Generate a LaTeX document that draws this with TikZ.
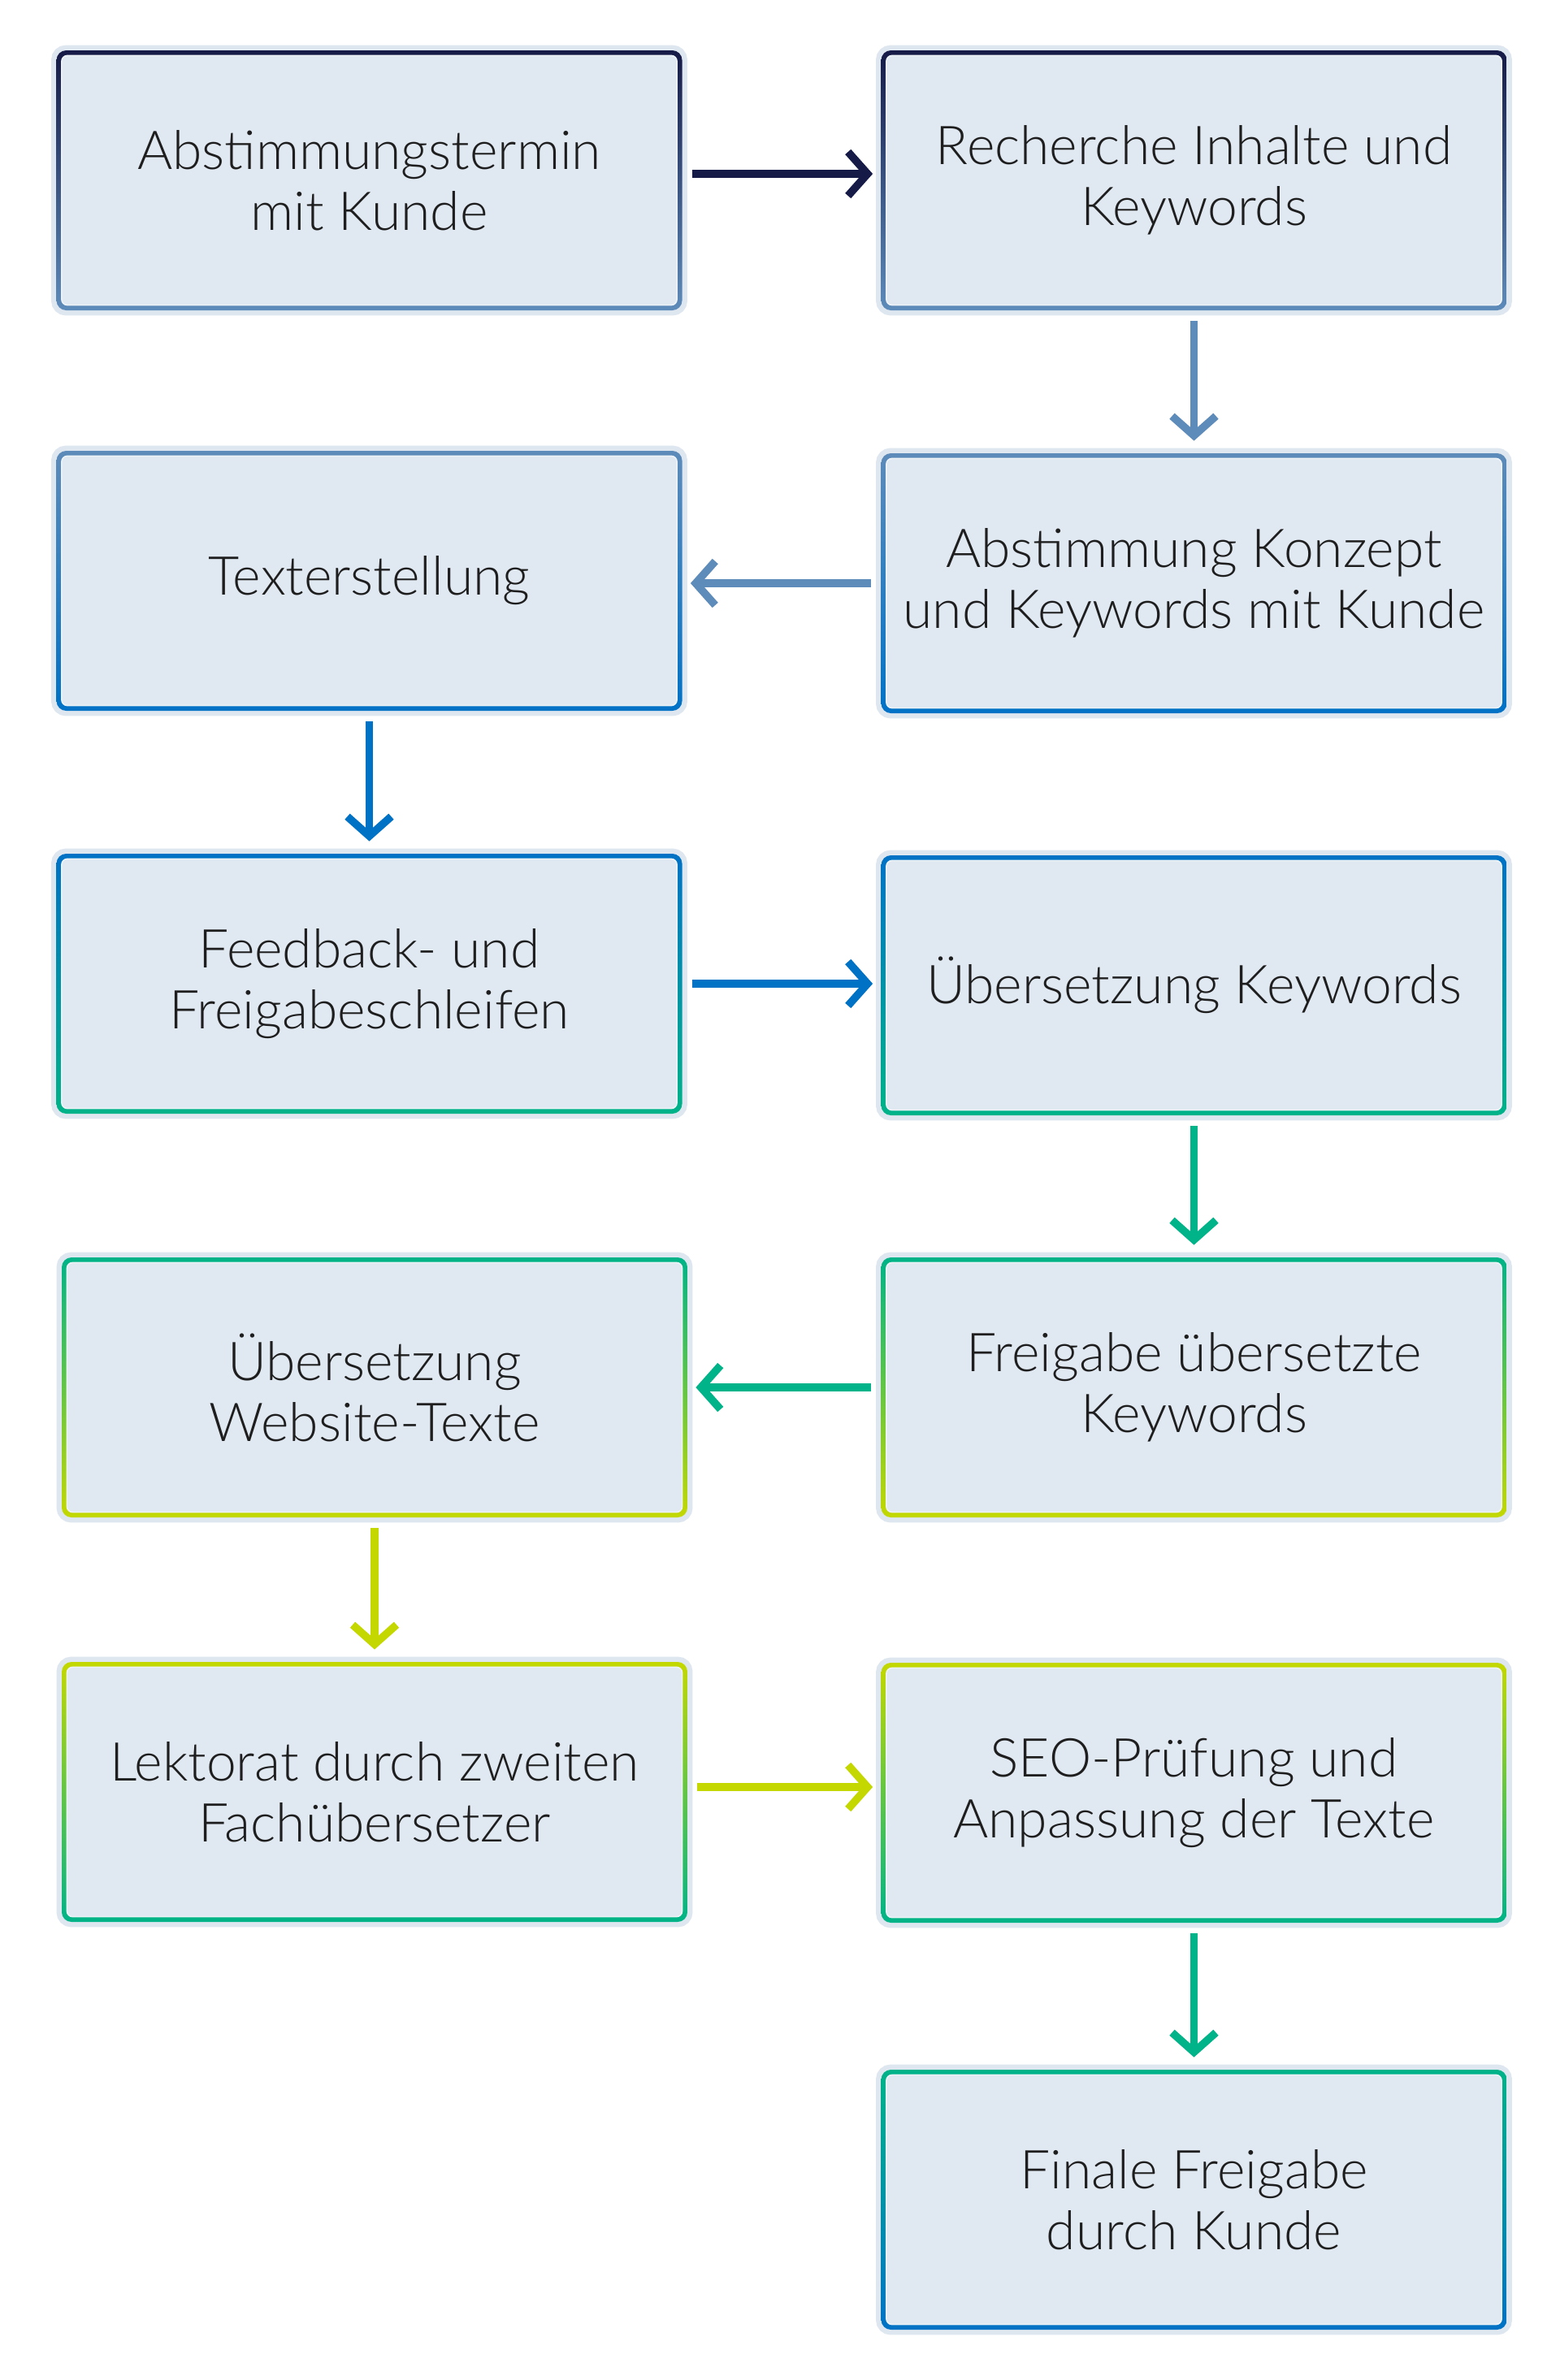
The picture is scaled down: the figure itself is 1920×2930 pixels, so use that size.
\documentclass[tikz,border=0pt]{standalone}
\usepackage{fontspec}
\setmainfont{Lato Light}
\usetikzlibrary{arrows.meta,backgrounds}
\definecolor{cnavy}{HTML}{161A46}
\definecolor{csteel}{HTML}{5D8BBA}
\definecolor{cblue}{HTML}{0072C6}
\definecolor{cgreen}{HTML}{00B388}
\definecolor{clime}{HTML}{C4D800}
\definecolor{cfill}{HTML}{E0E8F1}
\definecolor{chalo}{HTML}{DEE6EF}
\definecolor{chl}{HTML}{EEF3F8}
\definecolor{ctext}{HTML}{1E1E1E}
\tikzset{
  stepbox/.style 2 args={shape=rectangle, minimum width=385pt, minimum height=160pt,
    inner sep=0pt, rounded corners=6pt, top color=#1, bottom color=#2,
    align=center, text=ctext, font=\fontsize{33pt}{37.5pt}\selectfont,
    path picture={\fill[cfill, rounded corners=3.5pt, draw=chl, line width=0.8pt]
      ([shift={(3.2pt,3.2pt)}]path picture bounding box.south west) rectangle
      ([shift={(-3.2pt,-3.2pt)}]path picture bounding box.north east);}},
  halo/.style={draw=chalo, fill=chalo, line width=6pt, rounded corners=6pt},
  arr/.style={draw=#1, line width=4.75pt, -{Straight Barb[length=12pt,width=27pt]}},
  harr/.style={arr=#1, shorten <=6pt, shorten >=5pt},
  varr/.style={arr=#1, shorten <=6.5pt, shorten >=7.5pt},
}
\begin{document}
\begin{tikzpicture}[x=0.5pt,y=-0.5pt]
\useasboundingbox (0,0) rectangle (1920,2930);
\node[stepbox={cnavy}{csteel}] (b1) at (454.5,222) {Abstimmungstermin\\mit Kunde};
\node[stepbox={cnavy}{csteel}] (b2) at (1469.5,222) {Recherche Inhalte und\\Keywords};
\node[stepbox={csteel}{cblue}] (b3) at (1469.5,718) {Abstimmung Konzept\\und Keywords mit Kunde};
\node[stepbox={csteel}{cblue}] (b4) at (454.5,715) {Texterstellung};
\node[stepbox={cblue}{cgreen}] (b5) at (454.5,1211) {Feedback- und\\Freigabeschleifen};
\node[stepbox={cblue}{cgreen}] (b6) at (1469.5,1213) {Übersetzung Keywords};
\node[stepbox={cgreen}{clime}] (b7) at (1469.5,1708) {Freigabe übersetzte\\Keywords};
\node[stepbox={cgreen}{clime}] (b8) at (461,1708) {Übersetzung\\Website-Texte};
\node[stepbox={clime}{cgreen}] (b9) at (461,2206) {Lektorat durch zweiten\\Fachübersetzer};
\node[stepbox={clime}{cgreen}] (b10) at (1469.5,2207) {SEO-Prüfung und\\Anpassung der Texte};
\node[stepbox={cgreen}{cblue}] (b11) at (1469.5,2708) {Finale Freigabe\\durch Kunde};
\begin{scope}[on background layer]
\fill[white] (0,0) rectangle (1920,2930);
\foreach \n in {b1,b2,b3,b4,b5,b6,b7,b8,b9,b10,b11}
  \path[halo] (\n.south west) rectangle (\n.north east);
\end{scope}
\draw[harr=cnavy] ([yshift=4pt]b1.east) -- ([yshift=4pt]b2.west |- b1.east);
\draw[varr=csteel] (b2.south) -- (b3.north);
\draw[harr=csteel] (b3.west) -- (b4.east |- b3.west);
\draw[varr=cblue] (b4.south) -- (b5.north);
\draw[harr=cblue] (b5.east) -- (b6.west |- b5.east);
\draw[varr=cgreen] (b6.south) -- (b7.north);
\draw[harr=cgreen] (b7.west) -- (b8.east |- b7.west);
\draw[varr=clime] (b8.south) -- (b9.north);
\draw[harr=clime] ([yshift=3pt]b9.east) -- ([yshift=3pt]b10.west |- b9.east);
\draw[varr=cgreen] (b10.south) -- (b11.north);
\end{tikzpicture}
\end{document}
